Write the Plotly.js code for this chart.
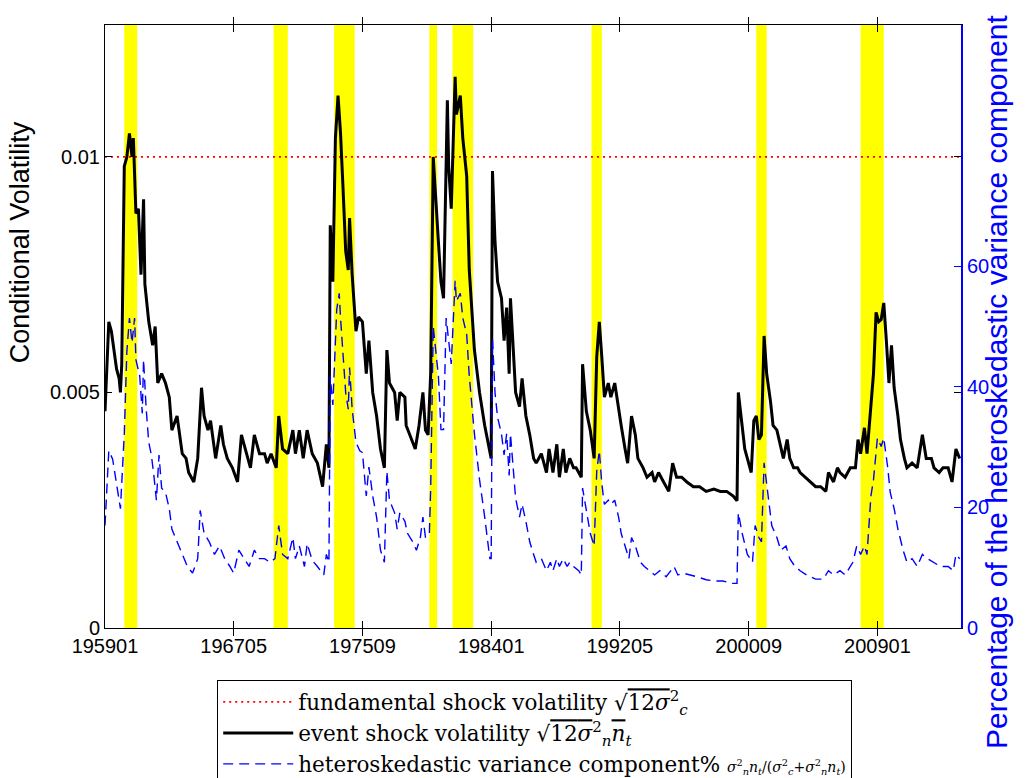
<!DOCTYPE html>
<html><head><meta charset="utf-8">
<script src="https://cdn.plot.ly/plotly-3.0.1.min.js"></script>
<style>html,body{margin:0;padding:0;background:#fff}#chart{width:1034px;height:778px}</style>
</head><body><div id="chart"></div>
<script>
// event shock volatility sqrt(12 sigma_n^2 n_t)
const eventDates = ['1959-01','1959-04','1959-06','1959-08','1959-10','1959-12','1960-01','1960-02','1960-04','1960-06','1960-08','1960-10','1960-11','1961-01','1961-03','1961-05','1961-07','1961-08','1961-11','1962-02','1962-04','1962-06','1962-09','1962-12','1963-03','1963-05','1963-09','1964-01','1964-04','1964-06','1964-10','1965-01','1965-04','1965-06','1965-09','1965-11','1966-03','1966-07','1966-09','1966-12','1967-04','1967-08','1967-11','1968-03','1968-06','1968-09','1969-01','1969-05','1969-07','1969-10','1970-02','1970-04','1970-07','1970-11','1971-03','1971-05','1971-08','1971-11','1972-02','1972-06','1972-10','1973-02','1973-05','1973-07','1973-08','1973-10','1973-12','1974-02','1974-04','1974-06','1974-08','1974-10','1974-11','1975-01','1975-04','1975-06','1975-09','1975-12','1976-02','1976-05','1976-08','1976-11','1977-02','1977-04','1977-06','1977-10','1977-12','1978-02','1978-06','1978-07','1978-11','1979-02','1979-05','1979-08','1979-10','1979-12','1980-02','1980-04','1980-08','1980-10','1980-12','1981-03','1981-04','1981-06','1981-09','1981-10','1982-01','1982-03','1982-06','1982-08','1982-12','1983-04','1983-08','1983-12','1984-01','1984-02','1984-04','1984-06','1984-09','1984-11','1985-01','1985-03','1985-04','1985-06','1985-08','1985-11','1986-01','1986-04','1986-07','1986-10','1986-12','1987-04','1987-08','1987-10','1988-01','1988-04','1988-06','1988-09','1988-11','1989-02','1989-05','1989-07','1989-11','1989-12','1990-03','1990-06','1990-09','1990-11','1991-01','1991-03','1991-05','1991-08','1991-10','1992-01','1992-04','1992-06','1992-09','1992-11','1993-02','1993-05','1993-07','1993-11','1994-02','1994-06','1994-08','1994-11','1995-03','1995-07','1995-10','1996-01','1996-05','1996-09','1997-02','1997-07','1997-12','1998-06','1998-11','1999-04','1999-09','1999-12','2000-01','2000-04','2000-06','2000-09','2000-11','2001-01','2001-03','2001-05','2001-07','2001-09','2001-11','2002-02','2002-04','2002-07','2002-10','2002-12','2003-03','2003-05','2003-08','2003-11','2004-01','2004-05','2004-09','2005-01','2005-05','2005-09','2005-11','2006-03','2006-06','2006-08','2006-12','2007-04','2007-08','2007-10','2007-12','2008-03','2008-05','2008-08','2008-10','2008-12','2009-02','2009-04','2009-06','2009-08','2009-10','2009-12','2010-02','2010-05','2010-07','2010-10','2010-12','2011-04','2011-08','2011-12','2012-03','2012-07','2012-09','2013-01','2013-04','2013-08','2013-11','2014-02','2014-05'];
const eventVol = [.0046,.0065,.0063,.0059,.0055,.0053,.0050,.0056,.0098,.0100,.0105,.0100,.0104,.0088,.0089,.0075,.0091,.0073,.0065,.0060,.0064,.0052,.0054,.0052,.0049,.0042,.0045,.0037,.0036,.0033,.0031,.0036,.0051,.0045,.0042,.0044,.0036,.0043,.0039,.0036,.0034,.0031,.0041,.0037,.0034,.0041,.0037,.0037,.0035,.0037,.0034,.0045,.0038,.0037,.0042,.0037,.0042,.0036,.0042,.0037,.0035,.0030,.0039,.0034,.00855,.00735,.0104,.0113,.0105,.0093,.0080,.0076,.0087,.0075,.0063,.0066,.0065,.0054,.0061,.0050,.0045,.0038,.0034,.0059,.0052,.0050,.0044,.0050,.0049,.0043,.0040,.0038,.0043,.0050,.0042,.0041,.0054,.0100,.0082,.00735,.0070,.0112,.0098,.0089,.0117,.0109,.0113,.0104,.0096,.0076,.0059,.0050,.0043,.0037,.0036,.0097,.0082,.00735,.0070,.0061,.0068,.0054,.0070,.0060,.0050,.0047,.0053,.0045,.0041,.0036,.0035,.0037,.0033,.0038,.0033,.0039,.0032,.0038,.0033,.0036,.0034,.0034,.0032,.0056,.0046,.0042,.0036,.00575,.0065,.00575,.0049,.0052,.0049,.0052,.0046,.0043,.0038,.0035,.0045,.0041,.0036,.0034,.0032,.0033,.0031,.0033,.0031,.0029,.0035,.0032,.0032,.0031,.0030,.0030,.0029,.00295,.0029,.0029,.0028,.0027,.0050,.0043,.0038,.0035,.0033,.0044,.0045,.0040,.0041,.0062,.0054,.0048,.0043,.0042,.0038,.0036,.0040,.0036,.0034,.0034,.0033,.0032,.0031,.0030,.0030,.0029,.0033,.0031,.0034,.0033,.0032,.0034,.0034,.0040,.0037,.00425,.0037,.0048,.0054,.0067,.0065,.00655,.0069,.0061,.0052,.0060,.0051,.0045,.0040,.0036,.0034,.0035,.0034,.0041,.0036,.0036,.0034,.0033,.0034,.0034,.0031,.0038,.0036];

// heteroskedastic variance component (%)
const hetDates = ['1959-01','1959-04','1959-07','1959-09','1959-11','1960-01','1960-04','1960-06','1960-08','1960-10','1960-12','1961-01','1961-04','1961-06','1961-07','1961-09','1961-11','1962-01','1962-03','1962-05','1962-07','1962-09','1962-12','1963-03','1963-05','1963-09','1964-01','1964-05','1964-09','1965-01','1965-03','1965-06','1965-10','1966-02','1966-06','1966-10','1967-02','1967-05','1967-09','1968-01','1968-05','1968-09','1969-01','1969-05','1969-09','1970-01','1970-04','1970-07','1970-11','1971-03','1971-05','1971-08','1971-12','1972-02','1972-06','1972-10','1973-03','1973-05','1973-07','1973-08','1973-10','1974-01','1974-03','1974-04','1974-06','1974-08','1974-10','1974-11','1975-01','1975-04','1975-07','1975-09','1975-12','1976-02','1976-05','1976-08','1976-11','1977-02','1977-04','1977-06','1977-10','1977-12','1978-02','1978-06','1978-08','1978-12','1979-03','1979-06','1979-08','1979-10','1980-01','1980-02','1980-04','1980-08','1980-10','1980-12','1981-02','1981-04','1981-06','1981-09','1981-10','1982-01','1982-03','1982-06','1982-08','1982-12','1983-04','1983-08','1983-12','1984-01','1984-02','1984-04','1984-06','1984-09','1984-11','1985-01','1985-03','1985-04','1985-06','1985-08','1985-11','1986-01','1986-04','1986-07','1986-10','1986-12','1987-04','1987-08','1987-11','1988-01','1988-04','1988-06','1988-09','1988-12','1989-02','1989-05','1989-09','1989-11','1989-12','1990-04','1990-06','1990-09','1990-11','1991-01','1991-03','1991-05','1991-08','1991-10','1992-01','1992-04','1992-06','1992-09','1992-12','1993-02','1993-05','1993-09','1993-12','1994-04','1994-08','1994-12','1995-05','1995-11','1996-02','1996-06','1996-12','1997-05','1997-12','1998-07','1999-01','1999-08','1999-12','2000-01','2000-04','2000-08','2000-12','2001-02','2001-05','2001-07','2001-09','2002-01','2002-03','2002-07','2002-10','2003-02','2003-05','2003-09','2004-01','2004-06','2005-01','2005-07','2005-11','2006-03','2006-08','2006-12','2007-06','2007-09','2007-12','2008-03','2008-05','2008-08','2008-10','2009-01','2009-04','2009-06','2009-09','2009-11','2010-02','2010-05','2010-09','2010-12','2011-04','2011-08','2011-12','2012-04','2012-09','2013-02','2013-08','2013-12','2014-02','2014-05'];
const hetPct = [17,29.4,28,25.3,23.2,19.8,32.2,45.9,51.4,47.3,51.4,44.5,41.8,35.6,44.5,36.3,30.8,28.7,25.3,21.2,28.7,23.2,22.5,19.8,16.4,14.3,12.2,10.2,9.1,11.5,19.5,15.7,14.3,12.2,13.6,11.5,10.2,9.1,12.9,11.5,10.2,12.9,11.5,11.5,10.9,11.5,17,12.2,11.5,15,11.5,13.6,10.2,14,11.2,10.2,8.8,12.2,10.9,41.8,37,52.8,55.5,51.4,44.5,39,36.3,43.2,36.3,30.8,29.4,29.1,21.9,26.7,21.9,18.4,12.9,10.9,26,21.2,19.1,16.4,19.1,17.7,15.7,14.3,12.9,15,18.4,15,15.7,23.2,50,41.8,32.9,32.9,51.4,47.3,43.8,57.6,54.2,55.5,51.4,48.7,41.8,32.2,24.6,18.4,11.5,11.5,48,39,34.9,32.2,28.7,32.2,25.3,32.2,26.7,21.5,18.4,20.5,17.7,14.3,12.2,10.9,11.5,9.5,10.9,9.5,11.5,10.2,11.5,10.2,10.9,10.2,9.5,8.8,23.2,18.4,15.7,13.6,26,29.4,23.9,20.5,21.2,20.5,21.2,18.4,15.7,13.6,11.5,15,13.6,10.9,10.2,9.5,8.8,9.5,8.5,10.2,8.8,9.1,8.8,8.5,8,7.8,7.8,7.4,7.4,19.1,15.7,12.2,10.9,17,15,14.3,27.4,19.8,17,15,12.9,13.6,11.5,10.2,9.5,8.8,8.1,8.1,9.5,8.8,9.5,8.8,10.9,13.6,12.2,13.6,12.2,21.9,24.6,31.5,30.1,31.5,26.7,22.5,19.8,16.4,12.9,10.9,11.5,10.2,12.2,11.5,10.9,10.2,10.2,9.5,12.2,11.5];

// fundamental shock volatility sqrt(12 sigma_c^2)
const fundDates = ['1959-01','2014-06'];
const fundVol = [0.01, 0.01];

// recession periods (shaded)
const recessionStart = ['1960-04','1969-12','1973-11','1980-01','1981-07','1990-07','2001-03','2007-12'];
const recessionEnd   = ['1961-02','1970-11','1975-03','1980-07','1982-11','1991-03','2001-11','2009-06'];

const xRange = ['1959-01-01','2014-06-01'];
const xTickDates = ['1959-01-01','1967-05-01','1975-09-01','1984-01-01','1992-05-01','2000-09-01','2009-01-01'];
const xTickLabels = ['195901','196705','197509','198401','199205','200009','200901'];
const yTickVals = [0, 0.005, 0.01];
const yTickLabels = ['0', '0.005', '0.01'];
const y2TickVals = [0, 20, 40, 60];

const sans = 'Liberation Sans, Arial, Helvetica, sans-serif';
const legendFont = {family: 'DejaVu Serif, Liberation Serif, serif', size: 21.5, color: '#000'};
const OL = '<span style="text-decoration:overline">';

const traces = [
  {x: fundDates, y: fundVol, type: 'scatter', mode: 'lines', yaxis: 'y',
   name: 'fundamental shock volatility √' + OL + '12<i>σ</i></span><sup>2</sup><sub><i>c</i></sub>',
   line: {color: '#ff0000', width: 1.7, dash: '2px,4px'}},
  {x: eventDates, y: eventVol, type: 'scatter', mode: 'lines', yaxis: 'y',
   name: 'event shock volatility √' + OL + '12<i>σ</i></span><sup>2</sup><sub><i>n</i></sub>' + OL + '<i>n</i></span><sub><i>t</i></sub>',
   line: {color: '#000000', width: 3}},
  {x: hetDates, y: hetPct, type: 'scatter', mode: 'lines', yaxis: 'y2',
   name: 'heteroskedastic variance component% <span style="font-size:14px"><i>σ</i><sup>2</sup><sub><i>n</i></sub><i>n</i><sub><i>t</i></sub>/(<i>σ</i><sup>2</sup><sub><i>c</i></sub>+<i>σ</i><sup>2</sup><sub><i>n</i></sub><i>n</i><sub><i>t</i></sub>)</span>',
   line: {color: '#0000ff', width: 1.4, dash: '10px,6px'}}
];

const shapes = recessionStart.map((s, i) => ({
  type: 'rect', xref: 'x', yref: 'paper', x0: s, x1: recessionEnd[i], y0: 0, y1: 1,
  fillcolor: '#ffff00', line: {width: 0}, layer: 'below'
}));

const axisFont = {family: sans, size: 20, color: '#000'};

const layout = {
  width: 1034, height: 778,
  margin: {l: 105, r: 73, t: 25, b: 150, autoexpand: false},
  paper_bgcolor: '#fff', plot_bgcolor: '#fff',
  font: axisFont,
  showlegend: true,
  legend: {x: 0.502, y: -0.087, xanchor: 'center', yanchor: 'top',
    bordercolor: '#000', borderwidth: 1, bgcolor: '#fff', font: legendFont,
    tracegroupgap: 0, itemwidth: 70},
  shapes: shapes,
  annotations: [
    {text: 'Conditional Volatility', xref: 'paper', yref: 'paper', x: -0.099, y: 0.64,
     xanchor: 'center', yanchor: 'middle', textangle: -90, showarrow: false,
     font: {family: sans, size: 27, color: '#000'}},
    {text: 'Percentage of the heteroskedastic variance component', xref: 'paper', yref: 'paper', x: 1.042, y: 0.408,
     xanchor: 'center', yanchor: 'middle', textangle: -90, showarrow: false,
     font: {family: sans, size: 30, color: '#0000ff'}}
  ],
  xaxis: {type: 'date', range: xRange, tickmode: 'array', tickvals: xTickDates, ticktext: xTickLabels,
    ticks: 'inside', ticklen: 7, tickcolor: '#000', showline: true, linecolor: '#000', linewidth: 1,
    mirror: 'allticks', showgrid: false, zeroline: false, tickfont: axisFont},
  yaxis: {range: [0, 0.0128], tickmode: 'array', tickvals: yTickVals, ticktext: yTickLabels,
    ticks: 'inside', ticklen: 7, tickcolor: '#000', showline: true, linecolor: '#000', linewidth: 1,
    mirror: 'allticks', showgrid: false, zeroline: false, tickfont: axisFont},
  yaxis2: {overlaying: 'y', side: 'right', range: [0, 100], tickmode: 'array', tickvals: y2TickVals,
    ticks: 'inside', ticklen: 7, tickcolor: '#0000ff', showline: true, linecolor: '#0000ff', linewidth: 2,
    showgrid: false, zeroline: false,
    tickfont: {family: sans, size: 20, color: '#0000ff'}}
};

Plotly.newPlot('chart', traces, layout, {displayModeBar: false, staticPlot: true});
</script>
</body></html>
